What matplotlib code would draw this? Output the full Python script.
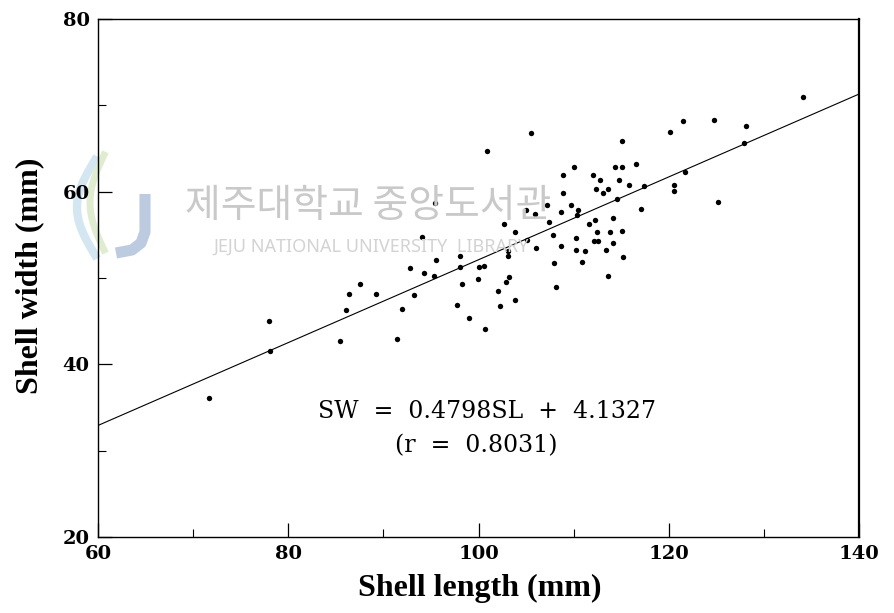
import matplotlib
matplotlib.use("Agg")
import matplotlib.pyplot as plt
import numpy as np
from matplotlib.lines import Line2D
from matplotlib.ticker import MultipleLocator

# ---- data ----
shell_length = [
    95.5, 92.8, 94.3, 95.3, 87.5, 86.4, 89.2, 93.2, 86.1, 92.0, 78.0, 78.1, 85.4, 91.4, 71.7,
    105.5, 100.9, 115.1, 110.0, 114.3, 115.1, 108.9, 112.0, 112.8, 114.8, 108.9, 112.4, 113.6,
    113.1, 114.6, 95.4, 107.2, 109.7, 105.0, 105.9, 108.7, 110.5, 110.4, 102.7, 107.4, 112.2,
    114.1, 111.6, 94.1, 103.8, 107.8, 110.2, 112.5, 113.8, 115.1, 105.1, 112.1, 112.6, 108.7,
    106.0, 114.1, 103.1, 110.2, 111.2, 113.4, 98.1, 103.1, 107.9, 110.9, 115.2, 98.1, 100.1,
    100.6, 98.3, 99.9, 103.2, 102.9, 113.6, 102.1, 108.1, 97.7, 102.3, 103.8, 99.0, 100.7,
    115.8, 134.1, 121.5, 124.8, 128.1, 120.1, 116.6, 117.4, 121.7, 120.6, 120.6, 127.9,
    117.1, 125.2,
]
shell_width = [
    52.1, 51.2, 50.6, 50.2, 49.3, 48.2, 48.2, 48.0, 46.3, 46.4, 45.0, 41.6, 42.7, 42.9, 36.1,
    66.8, 64.7, 65.9, 62.9, 62.9, 62.9, 61.9, 61.9, 61.4, 61.4, 59.9, 60.3, 60.3,
    59.8, 59.2, 58.7, 58.4, 58.5, 57.9, 57.4, 57.6, 57.9, 57.3, 56.3, 56.5, 56.7,
    56.9, 56.2, 54.8, 55.3, 55.0, 54.6, 55.3, 55.3, 55.5, 54.4, 54.3, 54.3, 53.7,
    53.5, 54.0, 53.1, 53.3, 53.1, 53.2, 52.5, 52.5, 51.7, 51.9, 52.4, 51.3, 51.3,
    51.4, 49.3, 49.9, 50.1, 49.5, 50.2, 48.5, 49.0, 46.9, 46.8, 47.5, 45.4, 44.1,
    60.8, 71.0, 68.2, 68.3, 67.6, 66.9, 63.2, 60.7, 62.3, 60.8, 60.1, 65.6,
    58.0, 58.8,
]
slope = 0.4798
intercept = 4.1327
r_value = 0.8031
x_ticks = [60, 80, 100, 120, 140]
y_ticks = [20, 40, 60, 80]
x_label = "Shell length (mm)"
y_label = "Shell width (mm)"
eq_line1 = "SW  =  0.4798SL  +  4.1327"
eq_line2 = "(r  =  0.8031)"
wm_korean = "제주대학교 중앙도서관"
wm_english = "JEJU NATIONAL UNIVERSITY  LIBRARY"

W, H = 894, 613
fig = plt.figure(figsize=(W / 100, H / 100), dpi=100)
fig.patch.set_facecolor("white")

def fx(px):
    return px / W

def fy(py):
    return 1 - py / H

# watermark (behind everything)
wm_col = "#c9c9c9"
fig.text(fx(368), fy(206), wm_korean, ha="center", va="center", fontsize=28,
         color=wm_col, family=["Noto Sans CJK KR", "DejaVu Sans"], zorder=0)
fig.text(fx(371), fy(247), wm_english, ha="center", va="center", fontsize=13,
         color="#d3d3d3", family=["Noto Sans", "DejaVu Sans"], zorder=0)
# faint logo shapes
fig.add_artist(Line2D([fx(145), fx(145), fx(141), fx(132), fx(116)],
                      [fy(194), fy(232), fy(243), fy(250), fy(253)],
                      color="#bccbe0", lw=8, solid_capstyle="butt", zorder=0))
tt = np.linspace(0, 1, 40)
fig.add_artist(Line2D(fx(95 - 18 * np.sin(np.pi * tt)), fy(160 + 95 * tt),
                      color="#d3e6f1", lw=6, zorder=0))
fig.add_artist(Line2D(fx(104 - 14 * np.sin(np.pi * tt)), fy(155 + 95 * tt),
                      color="#e0ecd0", lw=5, zorder=0))

ax = fig.add_axes([fx(98), fy(537), fx(859) - fx(98), fy(19) - fy(537)])
ax.patch.set_alpha(0)

ax.scatter(shell_length, shell_width, s=15, color="black", marker="o",
           linewidths=0, zorder=3)

xl = np.array([60, 140])
ax.plot(xl, slope * xl + intercept, color="black", lw=0.8, zorder=2)

ax.set_xlim(60, 140)
ax.set_ylim(20, 80)
ax.set_xticks(x_ticks)
ax.set_yticks(y_ticks)
ax.xaxis.set_minor_locator(MultipleLocator(10))
ax.yaxis.set_minor_locator(MultipleLocator(10))
ax.tick_params(which="major", direction="in", length=10, width=0.9,
               top=False, right=False, pad=6)
ax.tick_params(which="minor", direction="in", length=6, width=0.8,
               top=False, right=False)
for lab in ax.get_xticklabels() + ax.get_yticklabels():
    lab.set_family("DejaVu Serif")
    lab.set_fontweight("bold")
    lab.set_fontsize(14)

for side in ["left", "bottom", "top"]:
    ax.spines[side].set_linewidth(1.0)
ax.spines["right"].set_linewidth(1.6)

fig.text(fx(480), fy(588), x_label, ha="center", va="center", fontsize=23,
         fontweight="bold", family="Liberation Serif")
fig.text(fx(30), fy(276), y_label, ha="center", va="center", fontsize=23,
         fontweight="bold", family="Liberation Serif", rotation=90)

fig.text(fx(487), fy(412), eq_line1, ha="center", va="center", fontsize=17,
         family="DejaVu Serif")
fig.text(fx(476), fy(446), eq_line2, ha="center", va="center", fontsize=17,
         family="DejaVu Serif")

fig.savefig("out.png", dpi=100)
